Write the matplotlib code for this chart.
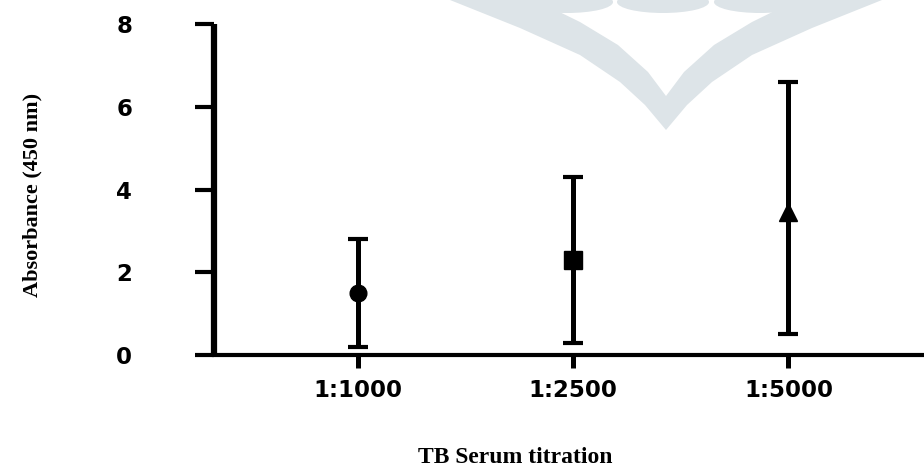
import matplotlib
matplotlib.use('Agg')
import matplotlib.pyplot as plt
from matplotlib.patches import Polygon, Ellipse
import numpy as np

# data
dilutions = ['1:1000', '1:2500', '1:5000']
means = [1.5, 2.3, 3.45]
lower = [0.2, 0.3, 0.5]
upper = [2.8, 4.3, 6.6]
markers = ['o', 's', '^']
yticks = [0, 2, 4, 6, 8]

W, H = 924, 470
fig = plt.figure(figsize=(W / 100, H / 100), dpi=100)
ax = fig.add_axes([214 / W, 1 - 355 / H, (W - 214) / W, 331 / H])
ax.patch.set_visible(False)


def px(pts):
    # pixel (y down) -> figure fraction, only used for the background watermark
    return [(x / W, 1 - y / H) for x, y in pts]


wm = '#dde4e8'
left_band = [(450, 0), (520, 28), (580, 55), (620, 82), (645, 105), (666, 130),
             (666, 96), (648, 72), (618, 45), (580, 22), (535, 0)]
right_band = [(1332 - x, y) for x, y in left_band]
for band in (left_band, right_band):
    fig.add_artist(Polygon(px(band), closed=True, color=wm, lw=0, zorder=-2,
                           transform=fig.transFigure))
for cx in (567, 663, 760):
    e = Ellipse((cx / W, 1 - 2 / H), 92 / W, 22 / H, color=wm, lw=0, zorder=-2,
                transform=fig.transFigure)
    fig.add_artist(e)

x = np.arange(1, len(dilutions) + 1)
for xi, m, lo, hi, mk in zip(x, means, lower, upper, markers):
    ax.errorbar(xi, m, yerr=[[m - lo], [hi - m]], fmt=mk, color='black',
                ecolor='black', elinewidth=3.6, capsize=7.5, capthick=3,
                markersize=12 if mk == 'o' else 13)

ax.set_xlim(0.33, 3.63)
ax.set_ylim(0, 8)
ax.set_xticks(x)
ax.set_xticklabels(dilutions)
ax.set_yticks(yticks)

for s in ('top', 'right'):
    ax.spines[s].set_visible(False)
ax.spines['left'].set_linewidth(4.5)
ax.spines['bottom'].set_linewidth(3)
ax.spines['left'].set_capstyle('butt')

ax.tick_params(axis='y', length=14, width=3, pad=45)
ax.tick_params(axis='x', length=9.5, width=3.6, pad=8)
for lab in ax.get_xticklabels() + ax.get_yticklabels():
    lab.set_fontfamily('DejaVu Sans')
    lab.set_fontweight('bold')
    lab.set_fontsize(16.5)

ax.set_xlabel('TB Serum titration', fontfamily='Liberation Serif',
              fontweight='bold', fontsize=17, va='center')
ax.xaxis.set_label_coords(0.424, -0.31)
ax.set_ylabel('Absorbance (450 nm)', fontfamily='Liberation Serif',
              fontweight='bold', fontsize=16, va='center')
ax.yaxis.set_label_coords(-0.256, 0.483)

fig.savefig('out.png', dpi=100)
